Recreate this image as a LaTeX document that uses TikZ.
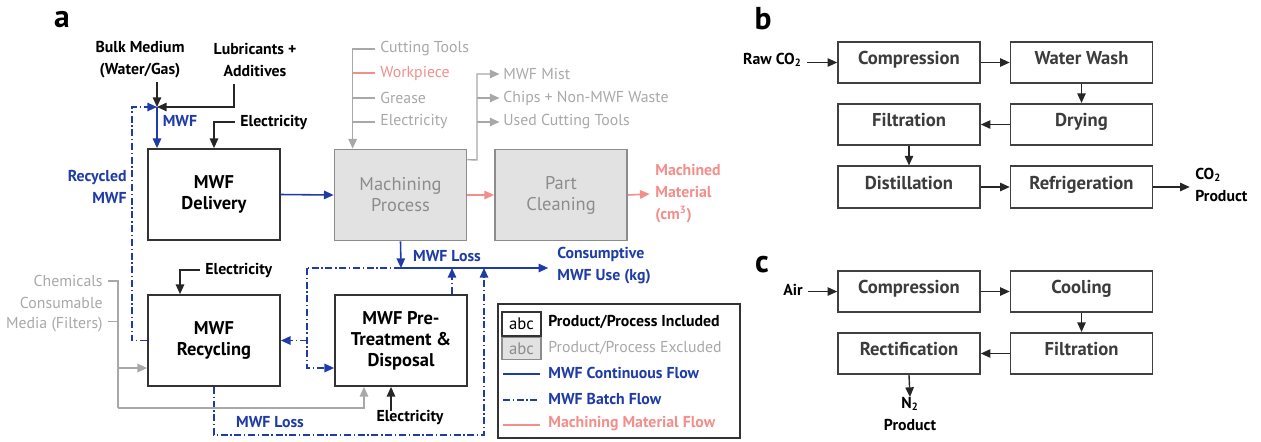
\documentclass[tikz,border=0pt]{standalone}
\usepackage{fontspec}
\setmainfont{PT Sans}
\usetikzlibrary{arrows.meta}
\definecolor{mblue}{HTML}{1F3CA6}
\definecolor{mpink}{HTML}{F28F8A}
\definecolor{mgray}{HTML}{A8A8A8}
\definecolor{gfill}{HTML}{E2E2E2}
\definecolor{gline}{HTML}{8C8C8C}
\definecolor{dgray}{HTML}{3C3C3C}
\begin{document}
\begin{tikzpicture}[x=0.02cm,y=-0.02cm,
  >={Triangle[length=5.5pt,width=4.8pt]},
  box/.style={draw=black!80,line width=1pt,minimum width=2.64cm,minimum height=1.82cm,align=center,inner sep=0pt,font=\fontsize{10.5}{12}\selectfont\bfseries},
  gbox/.style={box,fill=gfill,draw=gline,text=gline,font=\fontsize{10.5}{12}\selectfont},
  sbox/.style={draw=black!75,line width=0.9pt,minimum width=2.84cm,minimum height=0.83cm,inner sep=0pt,font=\fontsize{10.6}{12}\selectfont\bfseries,text=dgray,text depth=5pt},
  lbl/.style={font=\fontsize{9}{12.5}\selectfont\bfseries,align=center,inner sep=0pt},
  glbl/.style={font=\fontsize{9}{10}\selectfont,text=mgray,inner sep=0pt},
  bline/.style={mblue,line width=0.9pt},
  dline/.style={mblue,line width=0.9pt,dash pattern=on 4pt off 1.5pt on 0.8pt off 1.5pt},
  kline/.style={black!85,line width=0.8pt},
  gl/.style={mgray,line width=0.8pt},
  pl/.style={mpink,line width=0.9pt},
  panel/.style={font=\fontsize{18}{18}\selectfont\bfseries,inner sep=0pt},
]
\useasboundingbox (0,0) rectangle (1261,441);

% ---------------- panel a ----------------
\node[panel] (la) at (62,20) {a};
\node[lbl] (bulk) at (140,60) {Bulk Medium\\(Water/Gas)};
\node[lbl] (lub) at (255,60) {Lubricants +\\Additives};
\coordinate (jn) at (157,107);
\coordinate (lubd) at (234,84);

\node[box] (del) at (214,194.5) {MWF\\Delivery};
\node[gbox] (mach) at (400.5,195) {Machining\\Process};
\node[gbox] (clean) at (561,195) {Part\\Cleaning};
\node[box] (rec) at (214,340.5) {MWF\\Recycling};
\node[box] (pre) at (401,340.5) {MWF Pre-\\Treatment \&\\Disposal};

% inputs to MWF
\draw[kline,->] ([yshift=-2pt]bulk.south -| jn) -- (jn);
\draw[kline,->] (lubd) |- (jn);
\draw[bline,->] (jn) -- (del.north -| jn);
\node[lbl,text=mblue] (mwf) at (180,121) {MWF};
\node[lbl,anchor=west] (el1) at (240,122) {Electricity};
\draw[kline,->] ([xshift=-3pt]el1.west) -| (del.north);

% recycled MWF
\node[lbl,text=mblue,align=right,anchor=east] (rmwf) at (127,187) {Recycled\\MWF};
\draw[dline,->] (rec.west) -- ++(-15,0) |- (jn);

% main flow
\draw[bline,->] (del.east) -- (mach.west);
\draw[pl,->] (mach.east) -- (clean.west);
\node[lbl,text=mpink,align=left,anchor=west] (mm) at (655,194) {Machined\\Material\\(cm\textsuperscript{3})};
\draw[pl,->] (clean.east) -- ([xshift=-3pt]mm.west);

% machining inputs
\node[glbl,anchor=west] (ct) at (380,49) {Cutting Tools};
\node[glbl,anchor=west,text=mpink] (wp) at (380,73) {Workpiece};
\node[glbl,anchor=west] (gr) at (380,98) {Grease};
\node[glbl,anchor=west] (el2) at (380,122) {Electricity};
\coordinate (cin) at ([xshift=0.38cm]mach.north west);
\draw[gl,->] ([xshift=-3pt]ct.west) -| (cin);
\draw[pl] ([xshift=-3pt]wp.west) -- (wp.west -| cin);
\draw[gl] ([xshift=-3pt]gr.west) -- (gr.west -| cin);
\draw[gl] ([xshift=-3pt]el2.west) -- (el2.west -| cin);

% machining outputs
\node[glbl,anchor=west] (mist) at (503,74) {MWF Mist};
\node[glbl,anchor=west] (chips) at (503,98) {Chips + Non-MWF Waste};
\node[glbl,anchor=west] (uct) at (503,122) {Used Cutting Tools};
\coordinate (mo) at ([yshift=-0.22cm]mach.north east);
\coordinate (ov) at (477,160);
\draw[gl,->] (mo) -- (ov) |- ([xshift=-2pt]mist.west);
\draw[gl,->] (ov |- chips.west) -- ([xshift=-2pt]chips.west);
\draw[gl,->] (ov |- uct.west) -- ([xshift=-2pt]uct.west);

% MWF loss
\coordinate (lj) at (401,268);
\draw[bline,->] (mach.south) -- (lj);
\node[lbl,text=mblue] (loss1) at (447,256) {MWF Loss};
\node[lbl,text=mblue,align=left,anchor=west] (cons) at (557,266) {Consumptive\\MWF Use (kg)};
\draw[bline,->] (lj) -- ([xshift=-5pt]cons.west |- lj);
\coordinate (dv) at (307,268);
\draw[dline] (lj) -- (dv);
\draw[dline,->] (dv) |- ([yshift=-0.55cm]pre.west);
\draw[dline,->] (dv |- rec.east) -- (rec.east);
\coordinate (pu) at ([xshift=1.02cm]pre.north);
\draw[dline,->] (pu) -- (pu |- lj);
\coordinate (bl) at (484,435);
\draw[dline,->] (rec.south) |- (bl) -- (bl |- lj);
\node[lbl,text=mblue] (loss2) at (270,422) {MWF Loss};

% electricity
\node[lbl] (el3) at (410,417) {Electricity};
\coordinate (eu) at ([xshift=-0.38cm]el3.north);
\draw[kline,->] ([yshift=-1pt]eu) -- (eu |- pre.south);
\node[lbl,anchor=west] (el4) at (205,270) {Electricity};
\draw[kline,->] ([xshift=-3pt]el4.west) -| ([xshift=-0.68cm]rec.north);

% chemicals
\node[glbl,anchor=east] (chem) at (103,281) {Chemicals};
\node[glbl,anchor=east] (cmed) at (103,303) {Consumable};
\node[glbl,anchor=east] (media) at (103,325) {Media (Filters)};
\coordinate (gx) at (118,0);
\coordinate (gb) at (118,408);
\draw[gl] ([xshift=3pt]chem.east) -- (chem.east -| gx) -- (gb);
\draw[gl] ([xshift=3pt,yshift=2pt]media.east) -- ([yshift=2pt]media.east -| gx);
\draw[gl,->] (gb) -| ([xshift=-0.74cm]pre.south);
\draw[gl,->] ([yshift=-0.55cm]rec.west -| gx) -- ([yshift=-0.55cm]rec.west);

% legend
\node[draw=black!80,line width=1pt,minimum width=4.84cm,minimum height=2.68cm,inner sep=0pt] (leg) at (619,371) {};
\node[draw=black!80,line width=1pt,minimum width=0.78cm,minimum height=0.48cm,inner sep=0pt,font=\fontsize{9.5}{10}\selectfont] (k1) at (521.5,324) {abc};
\node[draw=gline,fill=gfill,text=gline,line width=1pt,minimum width=0.78cm,minimum height=0.44cm,inner sep=0pt,font=\fontsize{9.5}{10}\selectfont] (k2) at (521.5,348.5) {abc};
\node[lbl,anchor=west] (t1) at (548,322) {Product/Process Included};
\node[glbl,anchor=west] (t2) at (548,348) {Product/Process Excluded};
\node[lbl,anchor=west,text=mblue] (t3) at (548,373) {MWF Continuous Flow};
\node[lbl,anchor=west,text=mblue] (t4) at (548,399) {MWF Batch Flow};
\node[lbl,anchor=west,text=mpink] (t5) at (548,424) {Machining Material Flow};
\coordinate (k3a) at (503,374); \coordinate (k3b) at (540,374);
\coordinate (k4a) at (503,400); \coordinate (k4b) at (540,400);
\coordinate (k5a) at (503,425); \coordinate (k5b) at (540,425);
\draw[bline] (k3a) -- (k3b);
\draw[dline] (k4a) -- (k4b);
\draw[pl] (k5a) -- (k5b);

% ---------------- panel b ----------------
\node[panel] (lb) at (763,19) {b};
\node[sbox] (b1) at (909,62.5) {Compression};
\node[sbox] (b2) at (1081.5,62.5) {Water Wash};
\node[sbox] (b3) at (909,124.5) {Filtration};
\node[sbox] (b4) at (1081.5,124.5) {Drying};
\node[sbox] (b5) at (909,187) {Distillation};
\node[sbox] (b6) at (1081.5,187) {Refrigeration};
\node[lbl,anchor=east] (raw) at (802,60) {Raw CO\textsubscript{2}};
\node[lbl,anchor=west,align=left] (co2p) at (1195,185) {CO\textsubscript{2}\\Product};
\draw[kline,->] ([xshift=3pt]raw.east |- b1.west) -- (b1.west);
\draw[kline,->] (b1) -- (b2);
\draw[kline,->] (b2) -- (b4);
\draw[kline,->] (b4) -- (b3);
\draw[kline,->] (b3) -- (b5);
\draw[kline,->] (b5) -- (b6);
\draw[kline,->] (b6.east) -- ([xshift=-3pt]b6.east -| co2p.west);

% ---------------- panel c ----------------
\node[panel] (lc) at (762,265) {c};
\node[sbox] (c1) at (909,291.5) {Compression};
\node[sbox] (c2) at (1081.5,291.5) {Cooling};
\node[sbox] (c3) at (909,353.5) {Rectification};
\node[sbox] (c4) at (1081.5,353.5) {Filtration};
\node[lbl,anchor=east] (air) at (803,290) {Air};
\node[lbl,anchor=north] (n2) at (910,397) {N\textsubscript{2}\\Product};
\draw[kline,->] ([xshift=3pt]air.east |- c1.west) -- (c1.west);
\draw[kline,->] (c1) -- (c2);
\draw[kline,->] (c2) -- (c4);
\draw[kline,->] (c4) -- (c3);
\draw[kline,->] (c3.south) -- (n2.north);
\end{tikzpicture}
\end{document}
